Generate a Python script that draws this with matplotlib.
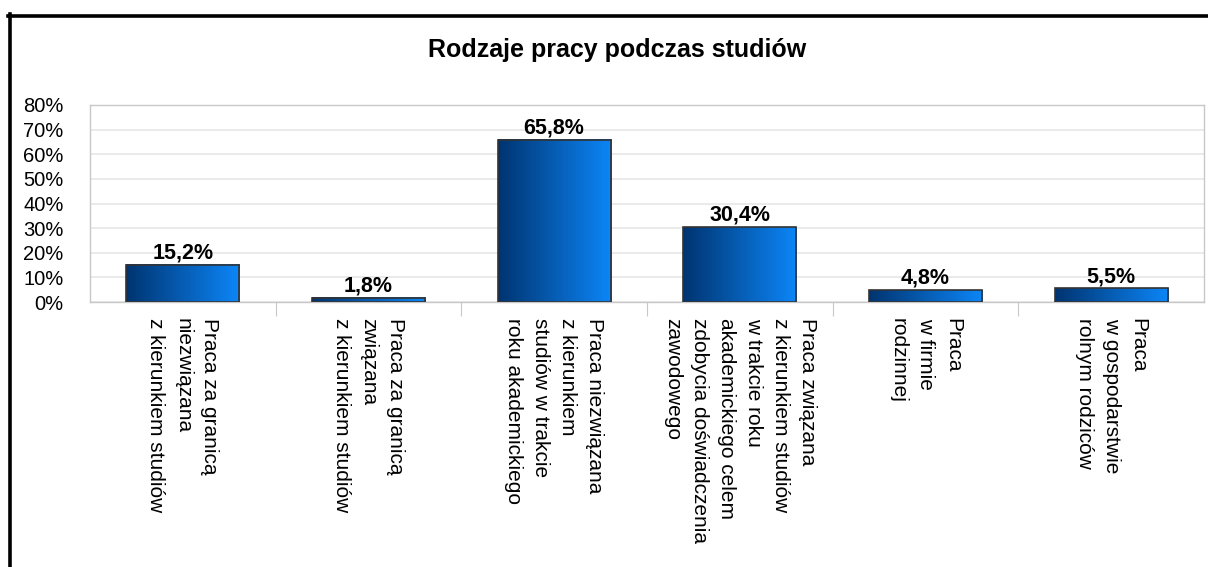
import numpy as np
import matplotlib
matplotlib.use("Agg")
import matplotlib.pyplot as plt
from matplotlib.patches import Rectangle
from matplotlib.lines import Line2D
from matplotlib.colors import LinearSegmentedColormap
from matplotlib.transforms import blended_transform_factory

title = "Rodzaje pracy podczas studiów"
categories = [
    "Praca za granicą\nniezwiązana\nz kierunkiem studiów",
    "Praca za granicą\nzwiązana\nz kierunkiem studiów",
    "Praca niezwiązana\nz kierunkiem\nstudiów w trakcie\nroku akademickiego",
    "Praca związana\nz kierunkiem studiów\nw trakcie roku\nakademickiego celem\nzdobycia doświadczenia\nzawodowego",
    "Praca\nw firmie\nrodzinnej",
    "Praca\nw gospodarstwie\nrolnym rodziców",
]
values = [15.2, 1.8, 65.8, 30.4, 4.8, 5.5]
value_labels = ["15,2%", "1,8%", "65,8%", "30,4%", "4,8%", "5,5%"]
yticks = [0, 10, 20, 30, 40, 50, 60, 70, 80]
ytick_labels = ["0%", "10%", "20%", "30%", "40%", "50%", "60%", "70%", "80%"]

W, H = 1208, 567
fig = plt.figure(figsize=(W / 100, H / 100), dpi=100)
fig.patch.set_facecolor("white")
font = "Liberation Sans"

# outer frame (left and top edges)
fig.add_artist(Line2D([9.5 / W, 9.5 / W], [0, 1 - 14 / H], transform=fig.transFigure, color="black", lw=2.6))
fig.add_artist(Line2D([8 / W, 1], [1 - 15.5 / H, 1 - 15.5 / H], transform=fig.transFigure, color="black", lw=2.6))

ax = fig.add_axes([90 / W, (H - 302) / H, (1204 - 90) / W, (302 - 105) / H])
ax.set_xlim(-0.5, len(values) - 0.5)
ax.set_ylim(0, 80)

for s in ["top", "right", "left", "bottom"]:
    ax.spines[s].set_color("#c8c8c8")
    ax.spines[s].set_linewidth(1.0)

ax.set_yticks(yticks)
ax.set_yticklabels(ytick_labels, fontsize=14.5, family=font)
ax.tick_params(axis="y", length=0, pad=19)
ax.yaxis.grid(True, color="#e6e6e6", lw=1.2)
ax.set_axisbelow(True)

ax.set_xticks(np.arange(len(values) - 1) + 0.5, minor=False)
ax.set_xticklabels([])
ax.tick_params(axis="x", length=10, color="#c8c8c8", direction="out")

cmap = LinearSegmentedColormap.from_list("bar", ["#003470", "#0c86f8"])
grad = np.linspace(0, 1, 256).reshape(1, -1)
bw = 0.61
for i, v in enumerate(values):
    x0, x1 = i - bw / 2, i + bw / 2
    ax.imshow(grad, extent=[x0, x1, 0, v], aspect="auto", cmap=cmap, zorder=2, interpolation="bilinear")
    ax.add_patch(Rectangle((x0, 0), bw, v, fill=False, edgecolor="#333333", lw=1.2, zorder=3))
    ax.text(i, v + 0.5, value_labels[i], ha="center", va="bottom", fontsize=15.5, fontweight="bold", family=font, zorder=4)

ax.set_xlim(-0.5, len(values) - 0.5)
ax.set_ylim(0, 80)

tr = blended_transform_factory(ax.transData, fig.transFigure)
for i, lab in enumerate(categories):
    ax.text(i, 1 - 318 / H, lab, transform=tr, rotation=270, ha="center", va="top",
            multialignment="left", fontsize=15, family=font, linespacing=1.53)

fig.text(617 / W, 1 - 57 / H, title, ha="center", va="baseline", fontsize=18, fontweight="bold", family=font)

fig.savefig("out.png", dpi=100)
